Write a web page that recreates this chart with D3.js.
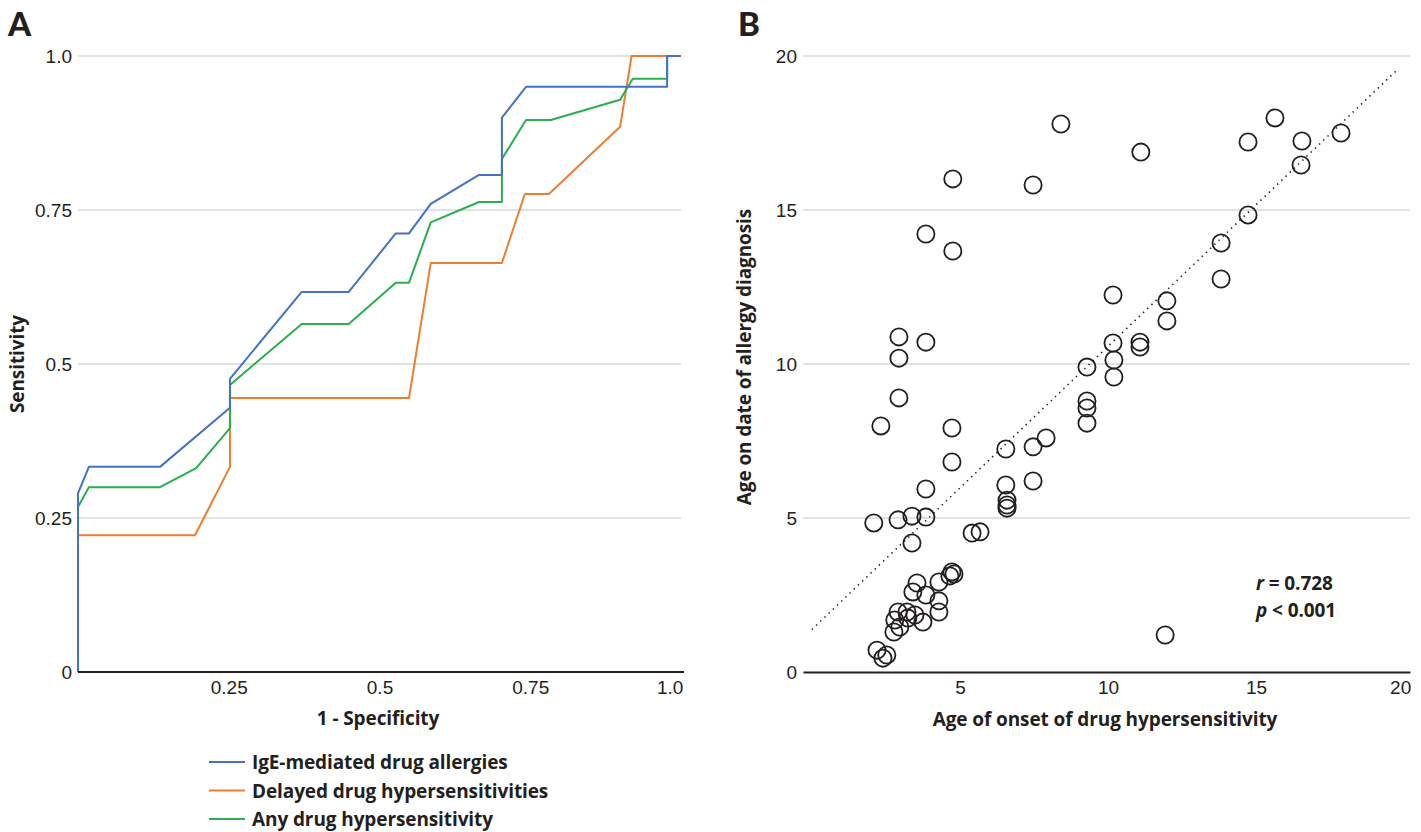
<!DOCTYPE html>
<html>
<head>
<meta charset="utf-8">
<title>ROC and age scatter</title>
<style>
    html, body { margin: 0; background: #fff; }
    svg { font-family: Lato, "Open Sans", sans-serif; }
    .tick text { font-size: 19px; fill: #231f20; }
    .ttl { font-family: "Open Sans", sans-serif; font-size: 19px; font-weight: bold; fill: #231f20; letter-spacing: -0.1px; }
    .grid { stroke: #d9d9d9; stroke-width: 1.5px; }
</style>
</head>
<body>
<script src="https://cdn.jsdelivr.net/npm/d3@7"></script>
<script>

    // ---- panel A : ROC curves (1 - specificity, sensitivity)
    const rocIge = [[0, 0], [0, 0.29], [0.018, 0.333], [0.136, 0.333], [0.252, 0.429], [0.252, 0.476],
        [0.371, 0.617], [0.449, 0.617], [0.527, 0.712], [0.549, 0.712], [0.585, 0.76], [0.665, 0.807],
        [0.703, 0.807], [0.703, 0.90], [0.743, 0.95], [0.977, 0.95], [0.977, 1.0], [1, 1]];
    const rocDelayed = [[0, 0], [0, 0.222], [0.194, 0.222], [0.252, 0.333], [0.252, 0.445], [0.549, 0.445],
        [0.585, 0.664], [0.703, 0.664], [0.741, 0.776], [0.781, 0.776], [0.899, 0.885], [0.918, 1.0], [1, 1]];
    const rocAny = [[0, 0], [0, 0.268], [0.018, 0.30], [0.136, 0.30], [0.196, 0.331], [0.252, 0.396],
        [0.252, 0.466], [0.371, 0.565], [0.449, 0.565], [0.527, 0.632], [0.549, 0.632], [0.585, 0.73],
        [0.665, 0.763], [0.703, 0.763], [0.703, 0.833], [0.743, 0.896], [0.784, 0.896], [0.899, 0.929],
        [0.920, 0.963], [0.977, 0.963], [0.977, 1.0], [1, 1]];
    const seriesNames = ["IgE-mediated drug allergies", "Delayed drug hypersensitivities", "Any drug hypersensitivity"];
    const seriesColors = ["#4472c4", "#ed7d31", "#27b04b"];
    const rocTicksY = [0, 0.25, 0.5, 0.75, 1];
    const rocTickLabelsY = ["0", "0.25", "0.5", "0.75", "1.0"];
    const rocTicksX = [0.25, 0.5, 0.75, 1];
    const rocTickLabelsX = ["0.25", "0.5", "0.75", "1.0"];

    // ---- panel B : age of onset vs age at diagnosis
    const onsetAge = [8.41, 11.11, 15.64, 14.73, 16.55, 17.87, 16.52, 14.73, 13.82, 13.82,
        4.76, 7.47, 3.85, 4.76, 10.17, 11.99, 11.99, 10.17, 11.08, 11.08,
        10.20, 9.29, 10.20, 9.29, 9.29, 9.29, 7.91, 7.47, 6.55, 7.47,
        6.55, 6.59, 6.59, 6.59, 2.94, 3.85, 2.94, 2.94, 2.33, 4.73,
        4.73, 3.85, 2.09, 2.91, 3.38, 3.85, 5.41, 5.68, 3.38, 11.93,
        4.73, 4.80, 4.66, 4.29, 3.55, 3.41, 3.85, 4.29, 4.29, 3.75,
        3.48, 3.21, 2.91, 2.80, 2.97, 2.77, 3.24, 2.20, 2.53, 2.40];
    const diagnosisAge = [17.79, 16.88, 17.99, 17.21, 17.24, 17.50, 16.46, 14.84, 13.93, 12.76,
        16.01, 15.81, 14.22, 13.67, 12.24, 12.05, 11.40, 10.68, 10.71, 10.55,
        10.13, 9.90, 9.58, 8.80, 8.57, 8.08, 7.60, 7.31, 7.24, 6.20,
        6.07, 5.58, 5.42, 5.32, 10.88, 10.71, 10.19, 8.90, 7.99, 7.92,
        6.82, 5.94, 4.84, 4.94, 5.06, 5.03, 4.51, 4.55, 4.19, 1.20,
        3.25, 3.18, 3.12, 2.92, 2.89, 2.60, 2.50, 2.31, 1.95, 1.62,
        1.85, 1.95, 1.95, 1.69, 1.46, 1.30, 1.75, 0.71, 0.55, 0.45];
    const fitLine = [[0, 1.38], [19.8, 19.58]];
    const ageTicks = [5, 10, 15, 20];
    const ageTicksY = [0, 5, 10, 15, 20];

    const svg = d3.select("body").append("svg")
        .attr("width", 1421)
        .attr("height", 832);

    // ================= panel A
    const xA = d3.scaleLinear().domain([0, 1]).range([78, 681]);
    const yA = d3.scaleLinear().domain([0, 1]).range([672, 56]);

    svg.append("g").selectAll("line")
        .data(rocTicksY.slice(1))
        .enter().append("line")
        .attr("class", "grid")
        .attr("x1", xA(0)).attr("x2", xA(1))
        .attr("y1", d => yA(d)).attr("y2", d => yA(d));

    const yAxisA = svg.append("g")
        .attr("transform", "translate(" + xA(0) + ",0)")
        .call(d3.axisLeft(yA).tickValues(rocTicksY).tickSize(0).tickPadding(6)
            .tickFormat((d, i) => rocTickLabelsY[i]));
    yAxisA.select(".domain").remove();

    const line = d3.line().x(d => xA(d[0])).y(d => yA(d[1]));
    const rocData = [rocDelayed, rocAny, rocIge];
    const rocColors = [seriesColors[1], seriesColors[2], seriesColors[0]];
    svg.append("g").selectAll("path")
        .data(rocData)
        .enter().append("path")
        .attr("d", line)
        .attr("fill", "none")
        .attr("stroke", (d, i) => rocColors[i])
        .attr("stroke-width", 2)
        .attr("stroke-linejoin", "round");

    const xAxisA = svg.append("g")
        .attr("transform", "translate(0," + yA(0) + ")")
        .call(d3.axisBottom(xA).tickValues(rocTicksX).tickSize(0).tickPadding(9)
            .tickFormat((d, i) => rocTickLabelsX[i]));
    xAxisA.select(".domain").attr("stroke", "#231f20").attr("stroke-width", 2)
        .attr("d", "M" + xA(0) + ",0H684");
    xAxisA.selectAll(".tick").filter(d => d === 1).select("text")
        .attr("text-anchor", "end").attr("dx", "0.1em");

    svg.append("text").attr("class", "ttl")
        .attr("x", 378).attr("y", 725)
        .attr("text-anchor", "middle")
        .text("1 - Specificity");
    svg.append("text").attr("class", "ttl")
        .attr("transform", "translate(24,364) rotate(-90)")
        .attr("text-anchor", "middle")
        .text("Sensitivity");

    // legend
    const legend = svg.append("g").selectAll("g")
        .data(seriesNames)
        .enter().append("g")
        .attr("transform", (d, i) => "translate(209," + (762 + i * 28.5) + ")");
    legend.append("line")
        .attr("x1", 0).attr("x2", 36)
        .attr("stroke", (d, i) => seriesColors[i])
        .attr("stroke-width", 2);
    legend.append("text").attr("class", "ttl")
        .attr("x", 43).attr("y", 7)
        .text(d => d);

    svg.append("text")
        .attr("x", 8).attr("y", 36)
        .style("font-size", "33px").style("font-weight", 900).attr("fill", "#231f20")
        .text("A");

    // ================= panel B
    const xB = d3.scaleLinear().domain([-0.3, 20.2]).range([803, 1410]);
    const yB = d3.scaleLinear().domain([0, 20]).range([672, 56]);

    svg.append("g").selectAll("line")
        .data(ageTicksY.slice(1))
        .enter().append("line")
        .attr("class", "grid")
        .attr("x1", xB(-0.3)).attr("x2", xB(20.2))
        .attr("y1", d => yB(d)).attr("y2", d => yB(d));

    const yAxisB = svg.append("g")
        .attr("transform", "translate(" + xB(-0.3) + ",0)")
        .call(d3.axisLeft(yB).tickValues(ageTicksY).tickSize(0).tickPadding(6));
    yAxisB.select(".domain").remove();

    const xAxisB = svg.append("g")
        .attr("transform", "translate(0," + yB(0) + ")")
        .call(d3.axisBottom(xB).tickValues(ageTicks).tickSize(0).tickPadding(9));
    xAxisB.select(".domain").attr("stroke", "#231f20").attr("stroke-width", 2);
    xAxisB.selectAll(".tick").filter(d => d === 20).select("text")
        .attr("text-anchor", "end").attr("dx", "0.35em");

    svg.append("path")
        .datum(fitLine)
        .attr("d", d3.line().x(d => xB(d[0])).y(d => yB(d[1])))
        .attr("fill", "none")
        .attr("stroke", "#231f20")
        .attr("stroke-width", 1.6)
        .attr("stroke-dasharray", "1.4 4.4");

    svg.append("g").selectAll("circle")
        .data(onsetAge)
        .enter().append("circle")
        .attr("cx", d => xB(d))
        .attr("cy", (d, i) => yB(diagnosisAge[i]))
        .attr("r", 8.6)
        .attr("fill", "none")
        .attr("stroke", "#231f20")
        .attr("stroke-width", 1.8);

    const stats = svg.append("g");
    const r1 = stats.append("text").attr("class", "ttl").attr("x", 1256).attr("y", 590);
    r1.append("tspan").style("font-style", "italic").text("r");
    r1.append("tspan").text(" = 0.728");
    const r2 = stats.append("text").attr("class", "ttl").attr("x", 1256).attr("y", 617);
    r2.append("tspan").style("font-style", "italic").text("p");
    r2.append("tspan").text(" < 0.001");

    svg.append("text").attr("class", "ttl")
        .attr("x", 1105).attr("y", 726)
        .attr("text-anchor", "middle")
        .text("Age of onset of drug hypersensitivity");
    svg.append("text").attr("class", "ttl")
        .attr("transform", "translate(751,357) rotate(-90)")
        .attr("text-anchor", "middle")
        .text("Age on date of allergy diagnosis");

    svg.append("text")
        .attr("x", 738).attr("y", 36)
        .style("font-size", "33px").style("font-weight", 900).attr("fill", "#231f20")
        .text("B");

</script>
</body>
</html>
